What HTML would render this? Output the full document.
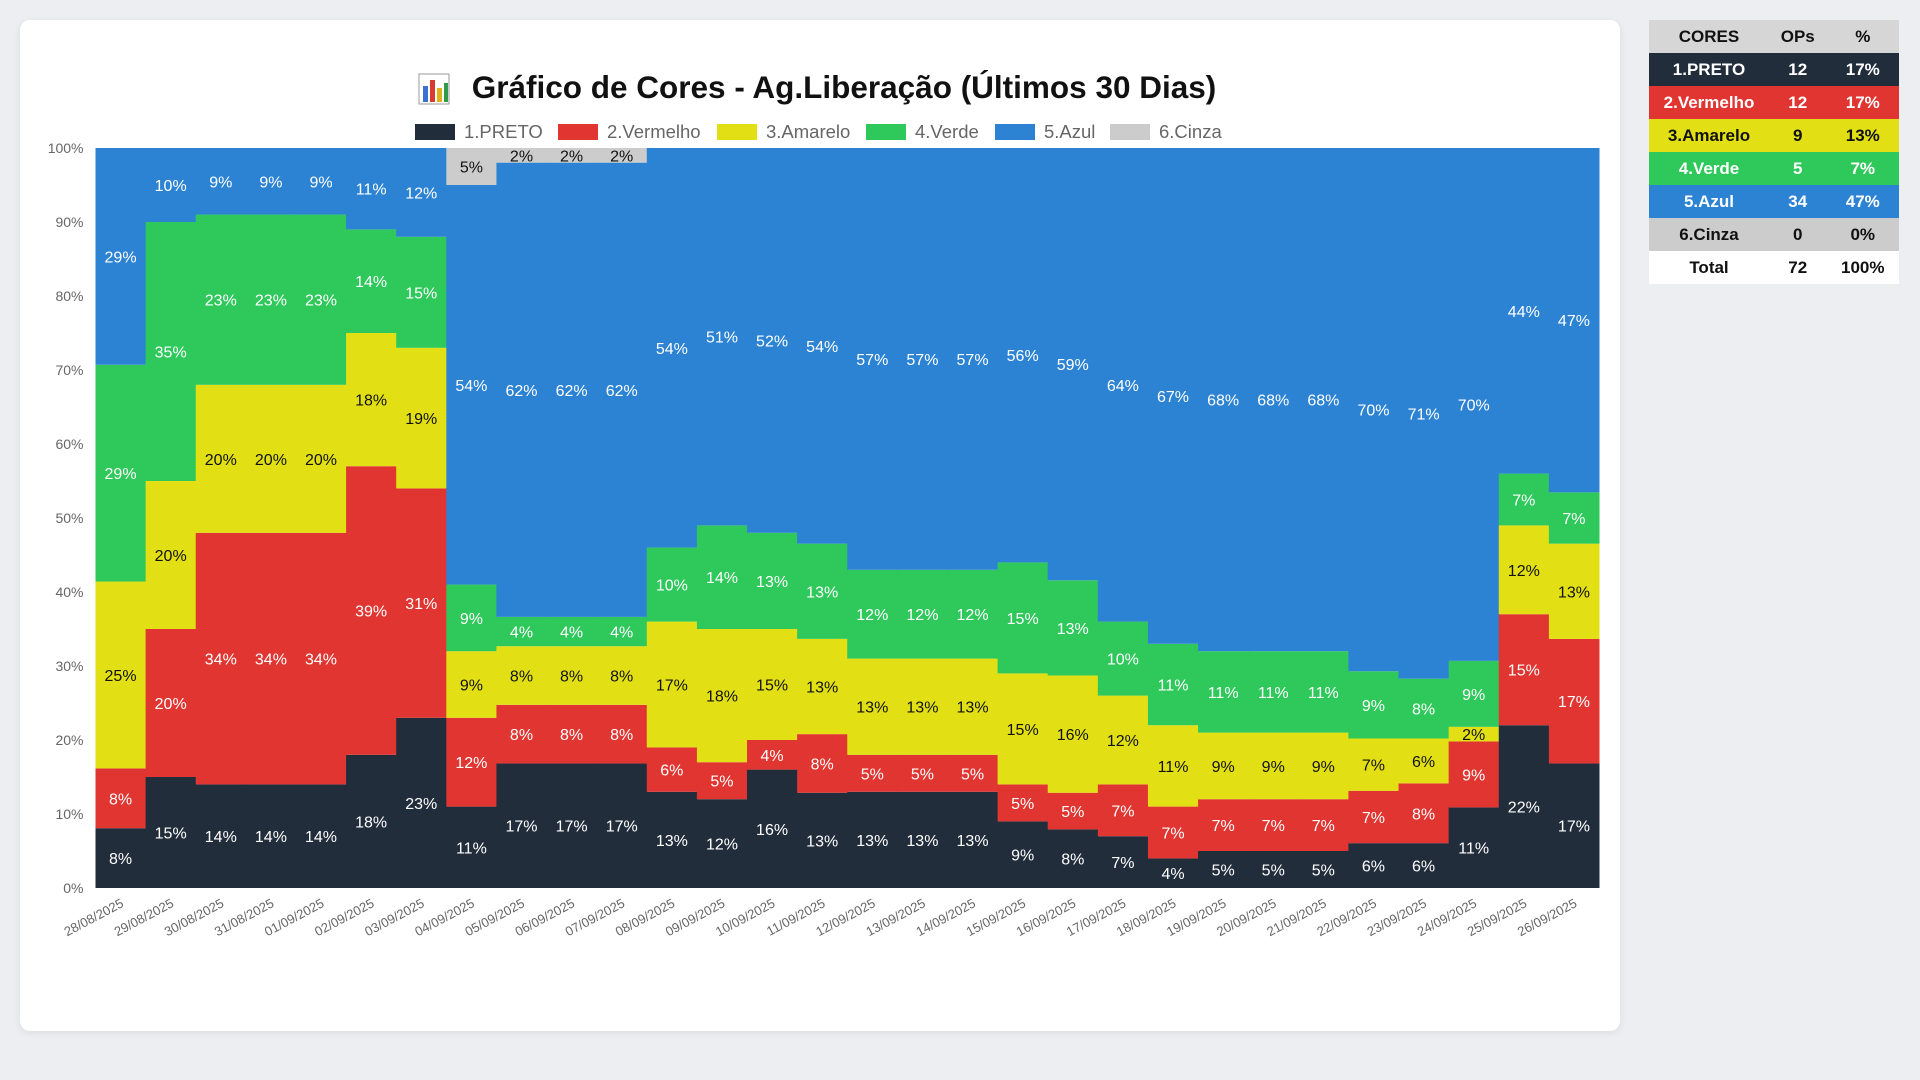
<!DOCTYPE html>
<html><head><meta charset="utf-8">
<style>
html,body{margin:0;padding:0;width:1920px;height:1080px;background:#eceef1;font-family:"Liberation Sans",Arial,sans-serif;overflow:hidden}
#card{position:absolute;left:20px;top:20px;width:1600px;height:1011px;background:#fff;border-radius:10px;box-shadow:0 2px 8px rgba(0,0,0,0.08)}
#tbl{position:absolute;left:1649px;top:20px;width:250px;border-collapse:collapse;font-weight:bold;font-size:17px;table-layout:fixed}
#tbl td,#tbl th{height:33px;padding:0;text-align:center;white-space:nowrap}
</style></head><body>
<div id="card">
<svg id="chart" width="1600" height="1011"></svg>
</div>
<table id="tbl">
<tr style="background:#d6d6d6;color:#111"><th style="width:48%">CORES</th><th style="width:23%">OPs</th><th style="width:29%">%</th></tr>
<tr style="background:#222d3b;color:#fff"><td>1.PRETO</td><td>12</td><td>17%</td></tr>
<tr style="background:#e03530;color:#fff"><td>2.Vermelho</td><td>12</td><td>17%</td></tr>
<tr style="background:#e2e014;color:#111"><td>3.Amarelo</td><td>9</td><td>13%</td></tr>
<tr style="background:#2ec85b;color:#fff"><td>4.Verde</td><td>5</td><td>7%</td></tr>
<tr style="background:#2c83d3;color:#fff"><td>5.Azul</td><td>34</td><td>47%</td></tr>
<tr style="background:#cccccc;color:#111"><td>6.Cinza</td><td>0</td><td>0%</td></tr>
<tr style="background:#fff;color:#111"><td>Total</td><td>72</td><td>100%</td></tr>
</table>
<script>
const dates=["28/08/2025","29/08/2025","30/08/2025","31/08/2025","01/09/2025","02/09/2025","03/09/2025","04/09/2025","05/09/2025","06/09/2025","07/09/2025","08/09/2025","09/09/2025","10/09/2025","11/09/2025","12/09/2025","13/09/2025","14/09/2025","15/09/2025","16/09/2025","17/09/2025","18/09/2025","19/09/2025","20/09/2025","21/09/2025","22/09/2025","23/09/2025","24/09/2025","25/09/2025","26/09/2025"];
const preto=[8,15,14,14,14,18,23,11,17,17,17,13,12,16,13,13,13,13,9,8,7,4,5,5,5,6,6,11,22,17];
const vermelho=[8,20,34,34,34,39,31,12,8,8,8,6,5,4,8,5,5,5,5,5,7,7,7,7,7,7,8,9,15,17];
const amarelo=[25,20,20,20,20,18,19,9,8,8,8,17,18,15,13,13,13,13,15,16,12,11,9,9,9,7,6,2,12,13];
const verde=[29,35,23,23,23,14,15,9,4,4,4,10,14,13,13,12,12,12,15,13,10,11,11,11,11,9,8,9,7,7];
const azul=[29,10,9,9,9,11,12,54,62,62,62,54,51,52,54,57,57,57,56,59,64,67,68,68,68,70,71,70,44,47];
const cinza=[0,0,0,0,0,0,0,5,2,2,2,0,0,0,0,0,0,0,0,0,0,0,0,0,0,0,0,0,0,0];
const seriesNames=["1.PRETO","2.Vermelho","3.Amarelo","4.Verde","5.Azul","6.Cinza"];
const yTicks=[0,10,20,30,40,50,60,70,80,90,100];
const series=[preto,vermelho,amarelo,verde,azul,cinza];
const colors=["#222d3b","#e03530","#e2e014","#2ec85b","#2c83d3","#cccccc"];
const txtColors=["#fff","#fff","#111","#fff","#fff","#111"];
const NS="http://www.w3.org/2000/svg";
const svg=document.getElementById('chart');
const L=75.5,R=1579,T=128,B=868;
const bw=(R-L)/dates.length;
const xPos=i=>L+i*bw;
const yPos=v=>B-(B-T)*v/100;
function mk(tag,attrs){const e=document.createElementNS(NS,tag);for(const k in attrs)e.setAttribute(k,attrs[k]);svg.appendChild(e);return e;}
// title
const ic=document.createElementNS(NS,'g');svg.appendChild(ic);


[["#fff",0,0,30,30],["#3b6fd0",4,12,5,16],["#d93a33",11,6,5,22],["#e0b21a",18,14,5,14],["#2f9a47",25,9,4,19]].forEach(r=>{const e=document.createElementNS(NS,'rect');e.setAttribute('x',399+r[1]);e.setAttribute('y',54+r[2]);e.setAttribute('width',r[3]);e.setAttribute('height',r[4]);e.setAttribute('fill',r[0]);if(r[0]=="#fff"){e.setAttribute('stroke','#999');}ic.appendChild(e);});
const title=mk('text',{x:824,y:78,'text-anchor':'middle','font-size':31.5,'font-weight':'bold',fill:'#111'});
title.textContent="Gráfico de Cores - Ag.Liberação (Últimos 30 Dias)";


// legend
const legX=[395,538,697,846,975,1090];
seriesNames.forEach((n,k)=>{
  const g=document.createElementNS(NS,'g');svg.appendChild(g);
  
  
  const r=document.createElementNS(NS,'rect');r.setAttribute('x',legX[k]);r.setAttribute('y',104);r.setAttribute('width',40);r.setAttribute('height',16);r.setAttribute('fill',colors[k]);g.appendChild(r);
  const t=document.createElementNS(NS,'text');t.setAttribute('x',legX[k]+49);t.setAttribute('y',118);t.setAttribute('font-size',18.5);t.setAttribute('fill','#666');t.textContent=n;g.appendChild(t);
});
// y ticks
yTicks.forEach(v=>{
  const t=mk('text',{x:L-12,y:yPos(v)+5,'text-anchor':'end','font-size':14,fill:'#666'});
  t.textContent=v+"%";
  
  
});
// bars
dates.forEach((d,i)=>{
  let tot=0;series.forEach(s=>tot+=s[i]);
  let acc=0;
  series.forEach((s,k)=>{
    const v=s[i];if(v<=0)return;
    const y0=acc/tot*100,y1=(acc+v)/tot*100;acc+=v;
    const r=mk('rect',{x:xPos(i),y:yPos(y1),width:bw+0.5,height:yPos(y0)-yPos(y1),fill:colors[k]});
    
    
    const t=mk('text',{x:xPos(i)+bw/2,y:(yPos(y0)+yPos(y1))/2+6,'text-anchor':'middle','font-size':16,fill:txtColors[k]});
    t.textContent=v+"%";
    
    
  });
  const cx=xPos(i)+bw/2+4, cy=B+18;
  const t=mk('text',{x:cx,y:cy,'text-anchor':'end','font-size':13,fill:'#666',transform:`rotate(-28 ${cx} ${cy})`});
  t.textContent=d;
  
  
});
</script>
</body></html>
